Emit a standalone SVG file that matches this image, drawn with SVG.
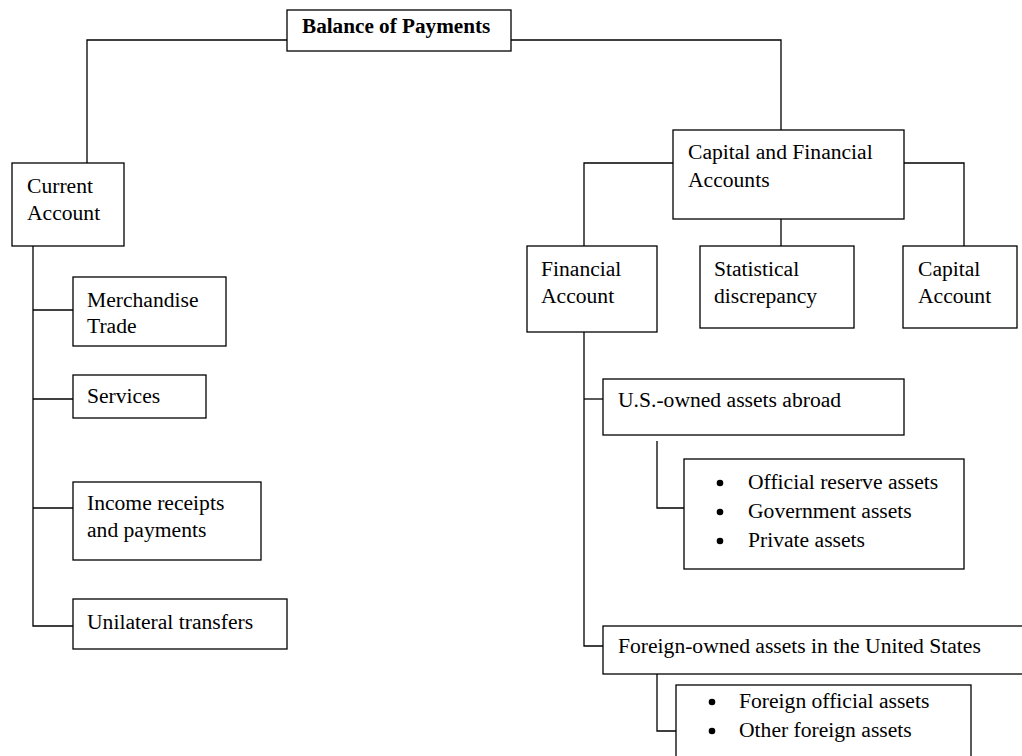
<svg xmlns="http://www.w3.org/2000/svg" width="1022" height="756" viewBox="0 0 1022 756">
<style>
.box{fill:#fff;stroke:#000;stroke-width:1.3}
.ln{fill:none;stroke:#000;stroke-width:1.3}
text{font-family:"Liberation Serif","Times New Roman",serif;font-size:21.6px;fill:#000}
.b{font-weight:bold;font-size:21.2px}
</style>
<rect width="1022" height="756" fill="#fff"/>
<g id="connectors">
<polyline class="ln" points="287,40 87,40 87,163"/>
<polyline class="ln" points="511,40 781,40 781,130"/>
<polyline class="ln" points="673,163 584,163 584,246"/>
<polyline class="ln" points="904,163 964,163 964,246"/>
<line class="ln" x1="781" y1="219" x2="781" y2="246"/>
<polyline class="ln" points="33,246 33,626 73,626"/>
<line class="ln" x1="33" y1="310" x2="73" y2="310"/>
<line class="ln" x1="33" y1="399" x2="73" y2="399"/>
<line class="ln" x1="33" y1="508" x2="73" y2="508"/>
<polyline class="ln" points="584,332 584,646 603,646"/>
<line class="ln" x1="584" y1="399" x2="603" y2="399"/>
<polyline class="ln" points="657,441 657,508 684,508"/>
<polyline class="ln" points="657,674 657,731 676,731"/>
</g>
<g id="balance">
<rect class="box" x="287" y="10" width="224" height="41"/>
<text class="b" x="302" y="33">Balance of Payments</text>
</g>
<g id="current">
<rect class="box" x="12" y="163" width="112" height="83"/>
<text x="27" y="193">Current</text>
<text x="27" y="220">Account</text>
</g>
<g id="merch">
<rect class="box" x="73" y="277" width="153" height="69"/>
<text x="87" y="307">Merchandise</text>
<text x="87" y="333">Trade</text>
</g>
<g id="services">
<rect class="box" x="73" y="375" width="133" height="43"/>
<text x="87" y="403">Services</text>
</g>
<g id="income">
<rect class="box" x="73" y="482" width="188" height="78"/>
<text x="87" y="510">Income receipts</text>
<text x="87" y="537">and payments</text>
</g>
<g id="unilateral">
<rect class="box" x="73" y="599" width="214" height="50"/>
<text x="87" y="629">Unilateral transfers</text>
</g>
<g id="capfin">
<rect class="box" x="673" y="130" width="231" height="89"/>
<text x="688" y="159">Capital and Financial</text>
<text x="688" y="187">Accounts</text>
</g>
<g id="financial">
<rect class="box" x="527" y="246" width="130" height="86"/>
<text x="541" y="276">Financial</text>
<text x="541" y="303">Account</text>
</g>
<g id="statistical">
<rect class="box" x="700" y="246" width="154" height="82"/>
<text x="714" y="276">Statistical</text>
<text x="714" y="303">discrepancy</text>
</g>
<g id="capital">
<rect class="box" x="903" y="246" width="114" height="82"/>
<text x="918" y="276">Capital</text>
<text x="918" y="303">Account</text>
</g>
<g id="usowned">
<rect class="box" x="603" y="379" width="301" height="56"/>
<text x="618" y="407">U.S.-owned assets abroad</text>
</g>
<g id="usassets">
<rect class="box" x="684" y="459" width="280" height="110"/>
<circle cx="720" cy="483" r="3.3"/>
<text x="748" y="489">Official reserve assets</text>
<circle cx="720" cy="512" r="3.3"/>
<text x="748" y="518">Government assets</text>
<circle cx="720" cy="541" r="3.3"/>
<text x="748" y="547">Private assets</text>
</g>
<g id="foreignowned">
<rect class="box" x="603" y="626" width="430" height="48"/>
<text x="618" y="653">Foreign-owned assets in the United States</text>
</g>
<g id="foreignassets">
<rect class="box" x="676" y="685" width="295" height="90"/>
<circle cx="712" cy="702" r="3.3"/>
<text x="739" y="708">Foreign official assets</text>
<circle cx="712" cy="731" r="3.3"/>
<text x="739" y="737">Other foreign assets</text>
</g>
</svg>
